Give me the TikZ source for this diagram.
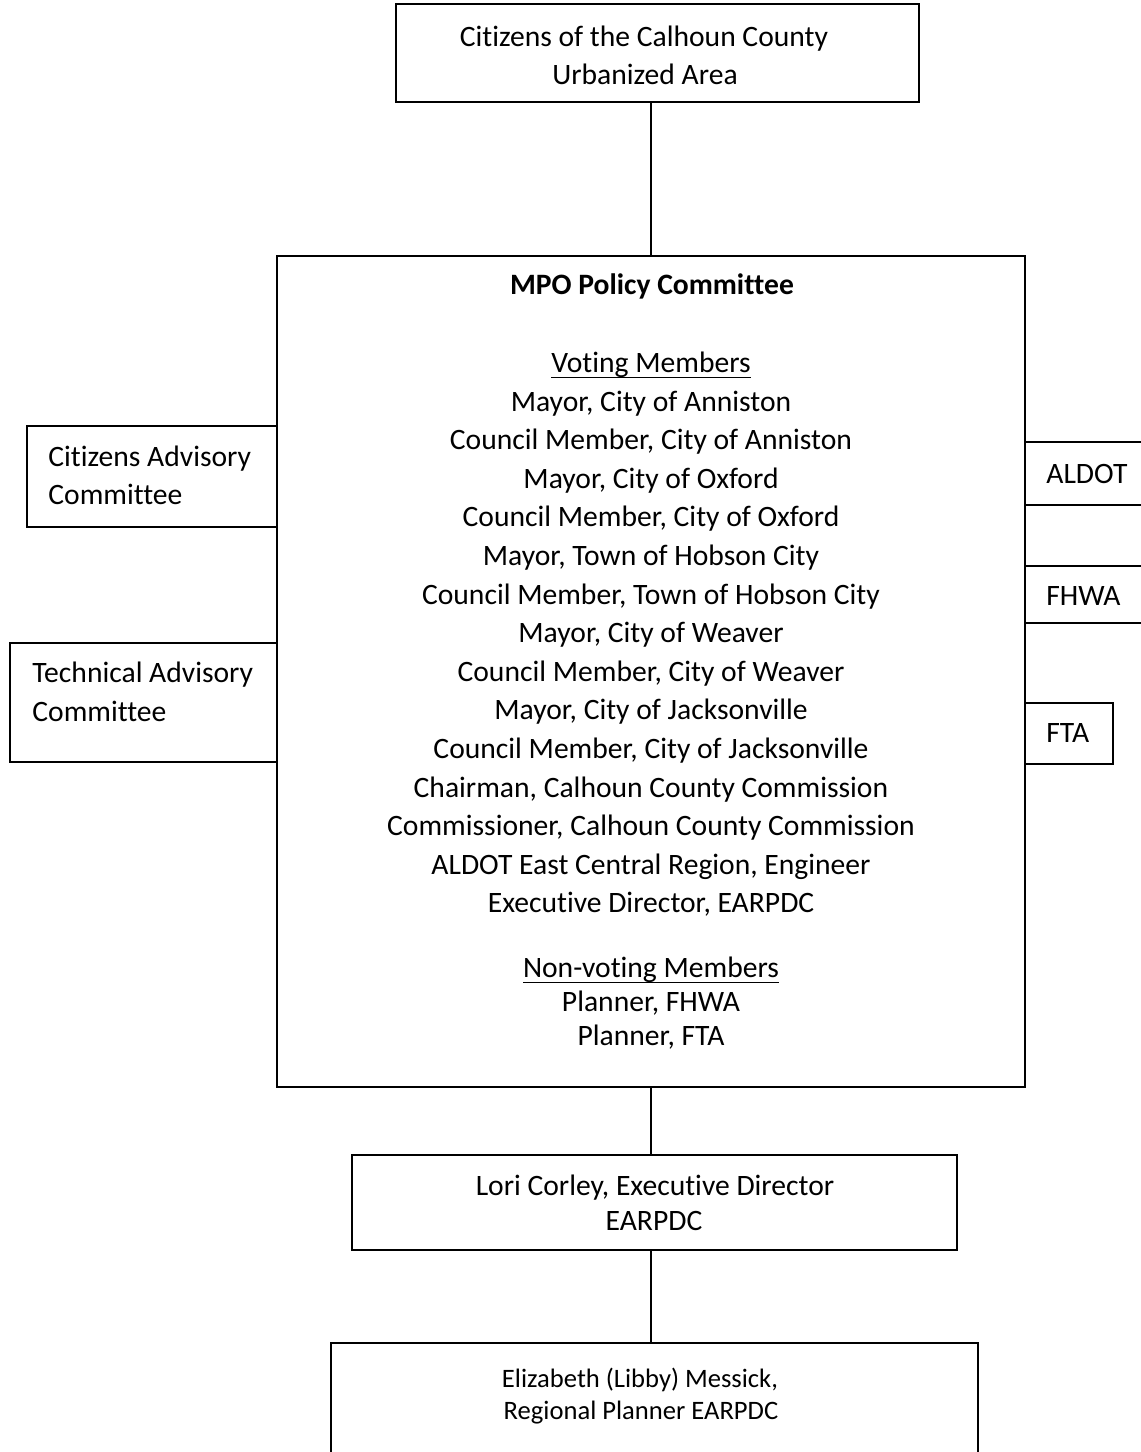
\documentclass[tikz,border=0pt]{standalone}
\usepackage{fontspec}
\setmainfont{Carlito}[Ligatures={NoCommon}]
\usetikzlibrary{fit}
\newcommand\myul[1]{\leavevmode\vtop{\hbox{#1}\kern-0.2pt\hrule height 0.9pt}}
\begin{document}
\begin{tikzpicture}[x=0.5pt,y=-0.5pt,
  box/.style={draw,line width=1pt,inner sep=0pt,fit={#1}},
  txt/.style={anchor=base,inner sep=0pt,font=\fontsize{14.8}{18}\selectfont},
  stxt/.style={anchor=base,inner sep=0pt,font=\fontsize{13.3}{16}\selectfont},
  ltxt/.style={anchor=base west,inner sep=0pt,font=\fontsize{14.8}{18}\selectfont},
  conn/.style={line width=1pt}]
\useasboundingbox (0,0) rectangle (1141,1452);
\clip (0,0) rectangle (1141,1452);
% boxes
\node[box={(396,4) (919,102)}] (top) {};
\node[box={(277,256) (1025,1087)}] (main) {};
\node[box={(352,1155) (957,1250)}] (lori) {};
\node[box={(331,1343) (978,1480)}] (libby) {};
\node[box={(27,426) (277,527)}] (cac) {};
\node[box={(10,643) (277,762)}] (tac) {};
\node[box={(1025,442) (1160,505)}] (aldot) {};
\node[box={(1025,566) (1160,623)}] (fhwa) {};
\node[box={(1025,703) (1113,764)}] (fta) {};
% connectors
\draw[conn] (main.north) -- (main.north |- top.south);
\draw[conn] (main.south) -- (main.south |- lori.north);
\draw[conn] (main.south |- lori.south) -- (main.south |- libby.north);
% texts
\node[txt] (t1) at (644,46) {Citizens of the Calhoun County};
\node[txt] (t2) at (645,84) {Urbanized Area};
\node[txt,font=\fontsize{14.8}{18}\selectfont\bfseries] (m0) at (652,294) {MPO Policy Committee};
\node[txt] (m1) at (651,372) {\myul{Voting Members}};
\foreach \s [count=\i from 0] in {Mayor{,} City of Anniston,
  Council Member{,} City of Anniston,
  Mayor{,} City of Oxford,
  Council Member{,} City of Oxford,
  Mayor{,} Town of Hobson City,
  Council Member{,} Town of Hobson City,
  Mayor{,} City of Weaver,
  Council Member{,} City of Weaver,
  Mayor{,} City of Jacksonville,
  Council Member{,} City of Jacksonville,
  Chairman{,} Calhoun County Commission,
  Commissioner{,} Calhoun County Commission,
  ALDOT East Central Region{,} Engineer,
  Executive Director{,} EARPDC}
  \node[txt] (v\i) at (651,411+38.6*\i) {\s};
\node[txt] (n0) at (651,977) {\myul{Non-voting Members}};
\node[txt] (n1) at (651,1011) {Planner, FHWA};
\node[txt] (n2) at (651,1045) {Planner, FTA};
\node[txt] (l1) at (655,1195) {Lori Corley, Executive Director};
\node[txt] (l2) at (654,1230) {EARPDC};
\node[stxt] (b1) at (640,1387) {Elizabeth (Libby) Messick,};
\node[stxt] (b2) at (641,1419) {Regional Planner EARPDC};
\node[ltxt] (c1) at (48,466) {Citizens Advisory};
\node[ltxt] (c2) at (48,504) {Committee};
\node[ltxt] (k1) at (32,682) {Technical Advisory};
\node[ltxt] (k2) at (32,721) {Committee};
\node[ltxt] (a1) at (1046,483) {ALDOT};
\node[ltxt] (f1) at (1046,605) {FHWA};
\node[ltxt] (f2) at (1046,742) {FTA};
\end{tikzpicture}
\end{document}
